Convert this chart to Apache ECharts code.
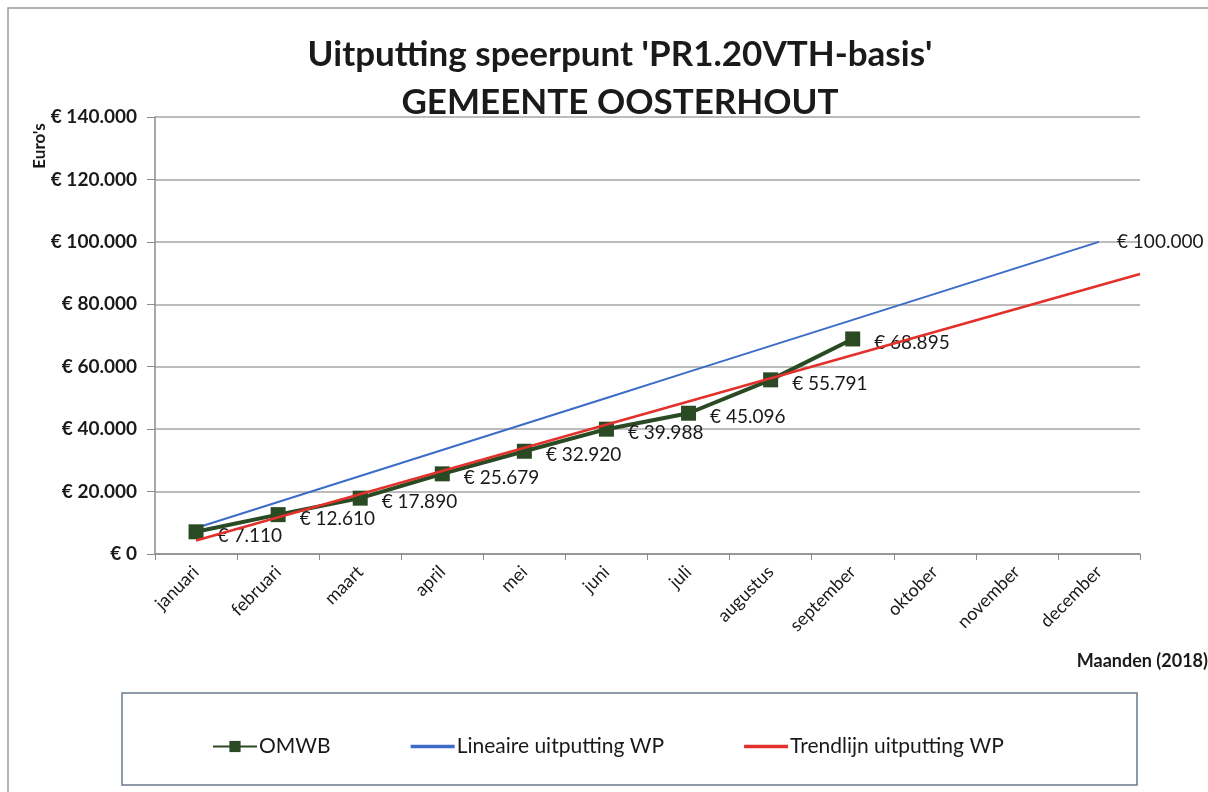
<!DOCTYPE html>
<html>
<head>
<meta charset="utf-8">
<script src="https://cdn.jsdelivr.net/npm/echarts@6/dist/echarts.min.js"></script>
<style>
  html, body { margin: 0; padding: 0; background: #fff; }
  #chart { width: 1208px; height: 792px; }
</style>
</head>
<body>
<div id="chart"></div>
<script>
// Months of 2018
const months = ['januari', 'februari', 'maart', 'april', 'mei', 'juni', 'juli',
  'augustus', 'september', 'oktober', 'november', 'december'];

// Actual spending (OMWB), up to september
const omwb = [7110, 12610, 17890, 25679, 32920, 39988, 45096, 55791, 68895];

// Linear depletion of the 100.000 budget
const lineair = [8333, 16667, 25000, 33333, 41667, 50000, 58333, 66667, 75000, 83333, 91667, 100000];

// Trend line: [month position, value]
const trend = [[1, 4300], [12.5, 89700]];

const yTicks = [0, 20000, 40000, 60000, 80000, 100000, 120000, 140000];

const euro = (v) => '€ ' + Math.round(v).toString().replace(/\B(?=(\d{3})+(?!\d))/g, '.');

const FONT = 'Lato';
const lineIcon = 'path://M0,0h40v3H0z';
const chart = echarts.init(document.getElementById('chart'));

const option = {
  backgroundColor: '#fff',
  textStyle: { fontFamily: FONT },
  title: {
    text: "Uitputting speerpunt 'PR1.20VTH-basis'\nGEMEENTE OOSTERHOUT",
    left: 615,
    textAlign: 'center',
    top: 26,
    textStyle: {
      fontFamily: FONT,
      fontSize: 35,
      fontWeight: 'bold',
      color: '#1a1a1a',
      lineHeight: 48
    }
  },
  grid: { left: 155, right: 68, top: 117, bottom: 238 },
  legend: {
    left: 207,
    top: 731,
    itemGap: 80,
    itemWidth: 44,
    itemHeight: 14,
    textStyle: { fontFamily: FONT, fontSize: 21, color: '#1a1a1a', padding: [0, 0, 0, -3] },
    data: [
      { name: 'OMWB' },
      { name: 'Lineaire uitputting WP', icon: lineIcon },
      { name: 'Trendlijn uitputting WP', icon: lineIcon }
    ]
  },
  xAxis: [{
    type: 'category',
    data: months,
    boundaryGap: true,
    axisLine: { lineStyle: { color: '#8c8c8c', width: 1.5 } },
    axisTick: { show: true, length: 6, alignWithLabel: false, lineStyle: { color: '#8c8c8c' } },
    axisLabel: {
      rotate: 45, fontSize: 18, color: '#1a1a1a', margin: 15, interval: 0
    },
    splitLine: { show: false }
  }, {
    type: 'value',
    min: 0.5,
    max: 12.5,
    show: false
  }],
  yAxis: {
    type: 'value',
    min: 0,
    max: 140000,
    interval: 20000,
    axisLine: { show: true, lineStyle: { color: '#8c8c8c', width: 1.5 } },
    axisTick: { show: true, length: 8, lineStyle: { color: '#8c8c8c' } },
    axisLabel: {
      fontSize: 19, fontWeight: 'bold', color: '#1a1a1a', margin: 18,
      formatter: (v) => yTicks.includes(v) ? euro(v) : ''
    },
    splitLine: { show: true, lineStyle: { color: '#a6a6a6', width: 1.5 } }
  },
  series: [{
    name: 'OMWB',
    type: 'line',
    data: omwb,
    symbol: 'rect',
    symbolSize: 15,
    z: 3,
    lineStyle: { color: '#2a4a24', width: 4 },
    itemStyle: { color: '#2a4a24' },
    label: {
      show: true,
      position: 'right',
      distance: 14,
      offset: [0, 4],
      fontFamily: FONT,
      fontSize: 19,
      color: '#1a1a1a',
      formatter: (p) => euro(p.value)
    }
  }, {
    name: 'Lineaire uitputting WP',
    type: 'line',
    data: lineair,
    symbol: 'none',
    z: 2,
    lineStyle: { color: '#3c6cc8', width: 2 },
    itemStyle: { color: '#3c6cc8' },
    endLabel: {
      show: true,
      distance: 18,
      fontFamily: FONT,
      fontSize: 19,
      color: '#1a1a1a',
      formatter: (p) => euro(p.value)
    }
  }, {
    name: 'Trendlijn uitputting WP',
    type: 'line',
    xAxisIndex: 1,
    data: trend,
    symbol: 'none',
    z: 4,
    lineStyle: { color: '#e3302b', width: 2.5 },
    itemStyle: { color: '#e3302b' }
  }],
  graphic: [{
    type: 'rect',
    shape: { x: 8, y: 8, width: 1250, height: 800 },
    style: { fill: 'none', stroke: '#9a9a9a', lineWidth: 1.5 },
    silent: true
  }, {
    type: 'rect',
    shape: { x: 122, y: 693, width: 1015, height: 92 },
    style: { fill: 'none', stroke: '#6b7a8c', lineWidth: 1.5 },
    silent: true
  }, {
    type: 'text',
    x: 40,
    y: 146,
    rotation: Math.PI / 2,
    style: {
      text: "Euro's",
      font: 'bold 17px Lato',
      fill: '#1a1a1a',
      align: 'center',
      verticalAlign: 'middle'
    }
  }, {
    type: 'text',
    x: 1208,
    y: 661,
    style: {
      text: 'Maanden (2018)',
      font: 'bold 18px Lato',
      fill: '#1a1a1a',
      align: 'right',
      verticalAlign: 'middle'
    }
  }]
};

chart.setOption(option);
</script>
</body>
</html>
